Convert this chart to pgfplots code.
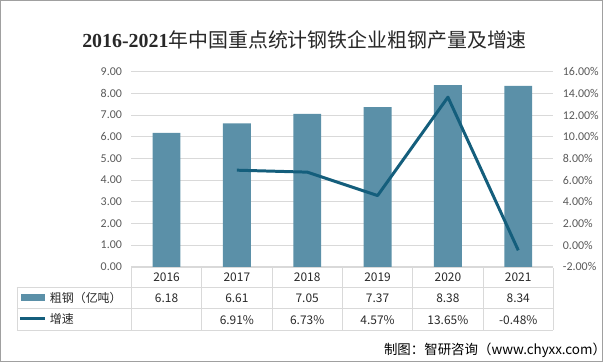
\documentclass[border=0pt]{standalone}
\usepackage{fontspec}
\usepackage{pgfplots}
\pgfplotsset{compat=1.18}
\setmainfont{Carlito}
\newfontfamily\cjk{Noto Sans CJK SC}
\newfontfamily\serif{Liberation Serif}
\definecolor{barc}{RGB}{91,144,168}
\definecolor{linec}{RGB}{20,94,124}
\definecolor{gridc}{RGB}{217,217,217}
\definecolor{tickc}{RGB}{89,89,89}
\definecolor{framec}{RGB}{160,160,160}
\definecolor{txtc}{RGB}{40,40,40}
\begin{document}
\begin{tikzpicture}[x=1pt,y=1pt]
\draw[framec, line width=1pt] (0.5,0.5) rectangle (605.5,363.5);
\node[font=\fontsize{20}{24}\selectfont, text=txtc] at (306,324) {{\serif\bfseries 2016-2021}{\cjk 年中国重点统计钢铁企业粗钢产量及增速}};
\begin{axis}[at={(132pt,96pt)}, anchor=south west, scale only axis, width=424pt, height=196pt,
  xmin=-0.5, xmax=5.5, ymin=0, ymax=9, ytick={0,1,...,9}, xtick=\empty,
  axis line style={draw=none}, ymajorgrids, grid style={gridc, line width=0.8pt},
  major tick length=0pt,
  yticklabel style={font=\fontsize{12}{14}\selectfont, text=tickc, xshift=-6pt},
  /pgf/number format/.cd, fixed, precision=2, zerofill, assume math mode=true, /pgfplots/.cd]
\addplot[ybar, bar width=28pt, fill=barc, draw=none] coordinates {(0,6.18)(1,6.61)(2,7.05)(3,7.37)(4,8.38)(5,8.34)};
\end{axis}
\begin{axis}[at={(132pt,96pt)}, anchor=south west, scale only axis, width=424pt, height=196pt,
  xmin=-0.5, xmax=5.5, ymin=-2, ymax=16, ytick={-2,0,...,16}, xtick=\empty,
  axis y line*=right, axis x line=none, axis line style={draw=none},
  major tick length=0pt,
  yticklabel={\pgfmathprintnumber[fixed,precision=2,zerofill,assume math mode=true]{\tick}\%},
  yticklabel style={font=\fontsize{12}{14}\selectfont, text=tickc, xshift=6pt}]
\addplot[linec, line width=3pt, line join=round, mark=none] coordinates {(1,6.91)(2,6.73)(3,4.57)(4,13.65)(5,-0.48)};
\end{axis}
% data table
\begin{scope}[gridc, line width=0.8pt]
\draw (132,95) -- (556,95);
\draw (17,75) -- (556,75);
\draw (17,54) -- (556,54);
\draw (17,32) -- (556,32);
\draw (17,75) -- (17,32);
\foreach \i in {0,...,6} {\draw ({132+70.667*\i},95) -- ({132+70.667*\i},32);}
\end{scope}
\begin{scope}[every node/.style={font=\cjk\fontsize{12}{14}\selectfont, text=txtc, inner sep=0pt}]
\foreach \y [count=\i from 0] in {2016,2017,2018,2019,2020,2021} {\node at ({167.3+70.667*\i},85) {\y};}
\foreach \v [count=\i from 0] in {6.18,6.61,7.05,7.37,8.38,8.34} {\node at ({167.3+70.667*\i},64) {\v};}
\foreach \v [count=\i from 1] in {6.91\%,6.73\%,4.57\%,13.65\%,-0.48\%} {\node at ({167.3+70.667*\i},42) {\v};}
\fill[barc] (21,62) rectangle (45,69);
\draw[linec, line width=3pt] (20,44) -- (45,44);
\node[anchor=west] at (50,65) {粗钢（亿吨）};
\node[anchor=west] at (50,44) {增速};
\node[anchor=east, font=\cjk\fontsize{13.5}{16}\selectfont, text=black] at (609,12) {制图：智研咨询（www.chyxx.com）};
\end{scope}
\end{tikzpicture}
\end{document}
